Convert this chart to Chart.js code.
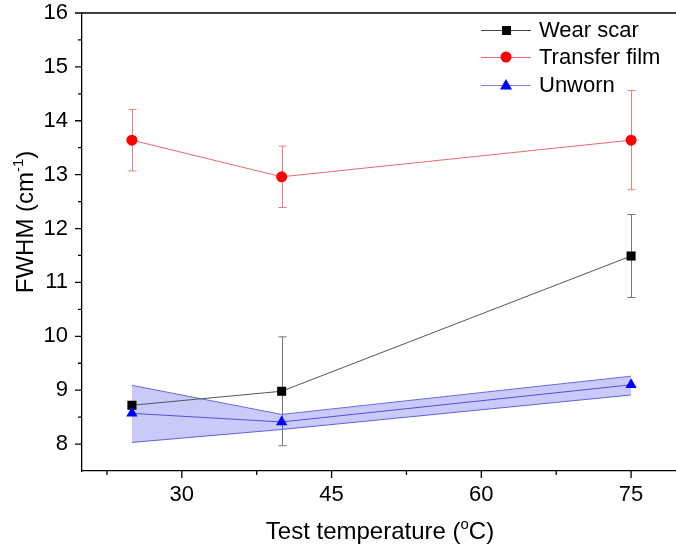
<!DOCTYPE html>
<html>
<head>
<meta charset="utf-8">
<script src="https://cdn.jsdelivr.net/npm/chart.js@4.4.0/dist/chart.umd.min.js"></script>
<style>
  html, body { margin: 0; padding: 0; background: #fff; overflow: hidden; }
  #wrap { width: 690px; height: 553px; }
</style>
</head>
<body>
<div id="wrap"><canvas id="fwhmChart" width="690" height="553"></canvas></div>
<script>
const temps = [25, 40, 75];
const wearScar = [8.72, 8.98, 11.49];
const wearScarErr = [0.05, 1.01, 0.77];
const transferFilm = [13.64, 12.96, 13.64];
const transferFilmErr = [0.57, 0.57, 0.92];
const unworn = [8.57, 8.41, 9.1];
const unwornUpper = [9.09, 8.55, 9.26];
const unwornLower = [8.03, 8.27, 8.91];

const xMajor = [30, 45, 60, 75];
const xMinor = [22.5, 37.5, 52.5, 67.5];
const yMajor = [8, 9, 10, 11, 12, 13, 14, 15, 16];
const yMinor = [8.5, 9.5, 10.5, 11.5, 12.5, 13.5, 14.5, 15.5];

const FONT = "'Liberation Sans', Arial, sans-serif";

const toPoints = (ys) => temps.map((t, i) => ({ x: t, y: ys[i] }));

// error bars drawn under the markers
const errorBars = {
    id: 'errorBars',
    beforeDatasetsDraw(chart) {
        const ctx = chart.ctx;
        const xs = chart.scales.x, ys = chart.scales.y;
        ctx.save();
        chart.data.datasets.forEach(ds => {
            if (!ds.errors) return;
            ctx.strokeStyle = ds.errorColor;
            ctx.lineWidth = 1;
            ds.data.forEach((p, i) => {
                const e = ds.errors[i];
                const px = Math.round(xs.getPixelForValue(p.x)) + 0.5;
                const top = ys.getPixelForValue(p.y + e);
                const bot = ys.getPixelForValue(p.y - e);
                ctx.beginPath();
                ctx.moveTo(px, top); ctx.lineTo(px, bot);
                ctx.moveTo(px - 4, top); ctx.lineTo(px + 4, top);
                ctx.moveTo(px - 4, bot); ctx.lineTo(px + 4, bot);
                ctx.stroke();
            });
        });
        ctx.restore();
    }
};

function drawRich(ctx, parts, x, y, size) {
    // parts: [text, isSuperscript]
    const widths = parts.map(([t, sup]) => {
        ctx.font = (sup ? size * 0.62 : size) + 'px ' + FONT;
        return ctx.measureText(t).width;
    });
    let cx = x - widths.reduce((a, b) => a + b, 0) / 2;
    parts.forEach(([t, sup], i) => {
        ctx.font = (sup ? size * 0.62 : size) + 'px ' + FONT;
        ctx.fillText(t, cx, sup ? y - size * 0.4 : y);
        cx += widths[i];
    });
}

const frameAndLegend = {
    id: 'frameAndLegend',
    afterDraw(chart) {
        const ctx = chart.ctx, a = chart.chartArea;
        const xs = chart.scales.x, ys = chart.scales.y;
        ctx.save();
        ctx.strokeStyle = '#000';
        ctx.lineWidth = 1.3;
        ctx.beginPath();
        ctx.moveTo(a.left, a.top); ctx.lineTo(a.right, a.top);
        xMajor.forEach(v => { const p = xs.getPixelForValue(v); ctx.moveTo(p, a.bottom); ctx.lineTo(p, a.bottom + 7); });
        xMinor.forEach(v => { const p = xs.getPixelForValue(v); ctx.moveTo(p, a.bottom); ctx.lineTo(p, a.bottom + 4); });
        yMajor.forEach(v => { const p = ys.getPixelForValue(v); ctx.moveTo(a.left, p); ctx.lineTo(a.left - 7, p); });
        yMinor.forEach(v => { const p = ys.getPixelForValue(v); ctx.moveTo(a.left, p); ctx.lineTo(a.left - 4, p); });
        ctx.stroke();

        // axis titles
        ctx.fillStyle = '#000';
        ctx.textBaseline = 'alphabetic';
        ctx.textAlign = 'left';
        drawRich(ctx, [['Test temperature (', false], ['o', true], ['C)', false]], 380, 539, 24);
        ctx.save();
        ctx.translate(33, 222);
        ctx.rotate(-Math.PI / 2);
        drawRich(ctx, [['FWHM (cm', false], ['-1', true], [')', false]], 0, 0, 24);
        ctx.restore();

        // legend
        const items = [
            { label: 'Wear scar', line: '#444', fill: '#000', style: 'rect', y: 30 },
            { label: 'Transfer film', line: '#e86a6a', fill: '#ff0000', style: 'circle', y: 57 },
            { label: 'Unworn', line: '#8080e0', fill: '#0000ff', style: 'triangle', y: 85 }
        ];
        ctx.font = '22px ' + FONT;
        ctx.textBaseline = 'middle';
        items.forEach(it => {
            ctx.strokeStyle = it.line;
            ctx.lineWidth = 1;
            ctx.beginPath();
            ctx.moveTo(481, it.y + 0.5); ctx.lineTo(531, it.y + 0.5);
            ctx.stroke();
            ctx.fillStyle = it.fill;
            ctx.beginPath();
            if (it.style === 'rect') {
                ctx.rect(502, it.y - 4, 9, 9);
            } else if (it.style === 'circle') {
                ctx.arc(506, it.y, 5.5, 0, Math.PI * 2);
            } else {
                ctx.moveTo(506, it.y - 6); ctx.lineTo(512, it.y + 4.5); ctx.lineTo(500, it.y + 4.5); ctx.closePath();
            }
            ctx.fill();
            ctx.fillStyle = '#000';
            ctx.fillText(it.label, 539, it.y + 1);
        });
        ctx.restore();
    }
};

const ctx = document.getElementById('fwhmChart').getContext('2d');
new Chart(ctx, {
    type: 'line',
    data: {
        datasets: [
            {
                label: 'Wear scar',
                data: toPoints(wearScar),
                errors: wearScarErr,
                errorColor: '#777',
                borderColor: '#555',
                borderWidth: 1,
                pointStyle: 'rect',
                pointRadius: 6.4,
                pointBackgroundColor: '#000',
                pointBorderWidth: 0,
                order: 1
            },
            {
                label: 'Transfer film',
                data: toPoints(transferFilm),
                errors: transferFilmErr,
                errorColor: '#e88080',
                borderColor: '#e86a6a',
                borderWidth: 1,
                pointStyle: 'circle',
                pointRadius: 5.5,
                pointBackgroundColor: '#ff0000',
                pointBorderWidth: 0,
                order: 1
            },
            {
                label: 'Unworn',
                data: toPoints(unworn),
                borderColor: '#5050d8',
                borderWidth: 1,
                pointStyle: 'triangle',
                pointRadius: 6.5,
                pointBackgroundColor: '#0000ff',
                pointBorderWidth: 0,
                order: 0
            },
            {
                label: 'Unworn upper',
                data: toPoints(unwornUpper),
                borderColor: '#6a6ae0',
                borderWidth: 1,
                pointRadius: 0,
                backgroundColor: 'rgba(40,40,235,0.25)',
                fill: '+1',
                order: 3
            },
            {
                label: 'Unworn lower',
                data: toPoints(unwornLower),
                borderColor: '#6a6ae0',
                borderWidth: 1,
                pointRadius: 0,
                fill: false,
                order: 3
            }
        ]
    },
    options: {
        responsive: false,
        animation: false,
        layout: { padding: { top: 13, right: 9, left: 0, bottom: 0 } },
        plugins: {
            legend: { display: false },
            tooltip: { enabled: false },
            filler: { propagate: false }
        },
        scales: {
            x: {
                type: 'linear',
                min: 20,
                max: 80,
                afterBuildTicks: (scale) => { scale.ticks = xMajor.map(v => ({ value: v })); },
                afterFit: (scale) => {
                    scale.height = 82;
                    scale.paddingLeft = 0;
                    scale.paddingRight = 0;
                },
                grid: { display: false, drawTicks: false },
                border: { display: true, color: '#000', width: 1.3 },
                ticks: {
                    padding: 11,
                    color: '#000',
                    font: { family: FONT, size: 22 }
                }
            },
            y: {
                type: 'linear',
                min: 7.5,
                max: 16,
                afterBuildTicks: (scale) => { scale.ticks = yMajor.map(v => ({ value: v })); },
                afterFit: (scale) => {
                    scale.width = 82;
                    scale.paddingTop = 0;
                    scale.paddingBottom = 0;
                },
                grid: { display: false, drawTicks: false },
                border: { display: true, color: '#000', width: 1.3 },
                ticks: {
                    padding: 14,
                    color: '#000',
                    font: { family: FONT, size: 22 }
                }
            }
        }
    },
    plugins: [errorBars, frameAndLegend]
});
</script>
</body>
</html>
